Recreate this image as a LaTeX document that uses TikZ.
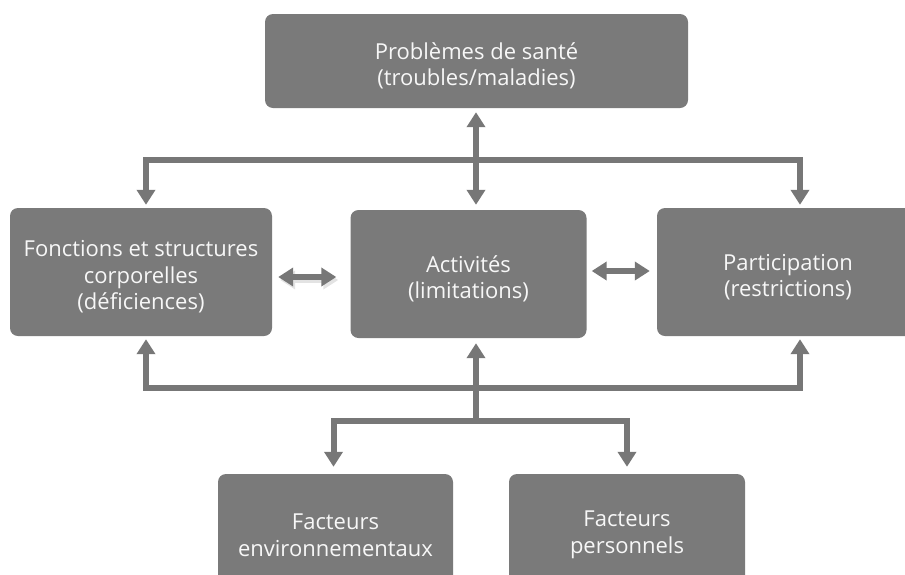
\documentclass[tikz,border=0pt]{standalone}
\usepackage{fontspec}
\setmainfont{Open Sans}
\usetikzlibrary{arrows.meta, positioning, calc}

\definecolor{boxgray}{HTML}{7A7A7A}
\definecolor{arrgray}{HTML}{777777}

\begin{document}
\begin{tikzpicture}[x=1pt, y=-1pt,
    box/.style={draw=none, fill=boxgray, rounded corners=8pt, inner sep=0pt},
    boxtext/.style={text=white!94!gray, align=center, yshift=-5pt,
        font=\fontsize{22}{26.5}\selectfont},
    link/.style={draw=arrgray, line width=6pt,
        arrows={-Triangle[width=18pt, length=15pt]}},
    twoway/.style={link, arrows={Triangle[width=18pt, length=15pt]-Triangle[width=18pt, length=15pt]}}
]
\useasboundingbox (0,0) rectangle (905,574);
\clip (0,0) rectangle (905,574);

% boxes
\node[box, minimum width=423pt, minimum height=94pt, label={[boxtext]center:Problèmes de santé\\(troubles/maladies)}] (sante) at (476.5,61) {};
\node[box, minimum width=262pt, minimum height=128pt, label={[boxtext]center:Fonctions et structures\\corporelles\\(déficiences)}] (fonc) at (141,272) {};
\node[box, minimum width=236pt, minimum height=128pt, label={[boxtext]center:Activités\\(limitations)}] (act) at (468.5,274) {};
\node[box, minimum width=262pt, minimum height=128pt, label={[boxtext]center:Participation\\(restrictions)}] (part) at (788,272) {};
\node[box, minimum width=235pt, minimum height=112pt, label={[boxtext]center:Facteurs\\environnementaux}] (env) at (335.5,530) {};
\node[box, minimum width=236pt, minimum height=112pt, label={[boxtext]center:Facteurs\\personnels}] (pers) at (627,530) {};

% upper bus
\coordinate (tbus) at (476,160);
\draw[twoway, shorten <=4pt, shorten >=5pt] (tbus |- sante.south) -- (tbus |- act.north);
\draw[link, shorten >=3pt] (tbus) -| ([xshift=5pt]fonc.north);
\draw[link, shorten >=3pt] (tbus) -| ([xshift=12pt]part.north);

% lower bus
\coordinate (bbus) at (476,388);
\coordinate (fork) at (476,421);
\draw[link, shorten >=3pt] (bbus) -| ([xshift=5pt]fonc.south);
\draw[link, shorten >=3pt] (bbus) -| ([xshift=12pt]part.south);
\draw[link, shorten >=5pt] (fork) -- (fork |- act.south);
\draw[link, shorten >=7pt] (fork) -| ([xshift=-2pt]env.north);
\draw[link, shorten >=7pt] (fork) -| (pers.north);

% side links
\draw[twoway, draw=gray!22, shorten <=6pt, shorten >=14pt] ([xshift=2pt, yshift=-8pt]fonc.east) -- ([xshift=2pt, yshift=-8pt]fonc.east -| act.west);
\draw[twoway, shorten <=6pt, shorten >=14pt] ([yshift=-5pt]fonc.east) -- ([yshift=-5pt]fonc.east -| act.west);
\draw[twoway, shorten <=5pt, shorten >=7pt] ([yshift=3pt]act.east) -- ([yshift=3pt]act.east -| part.west);
\end{tikzpicture}
\end{document}
